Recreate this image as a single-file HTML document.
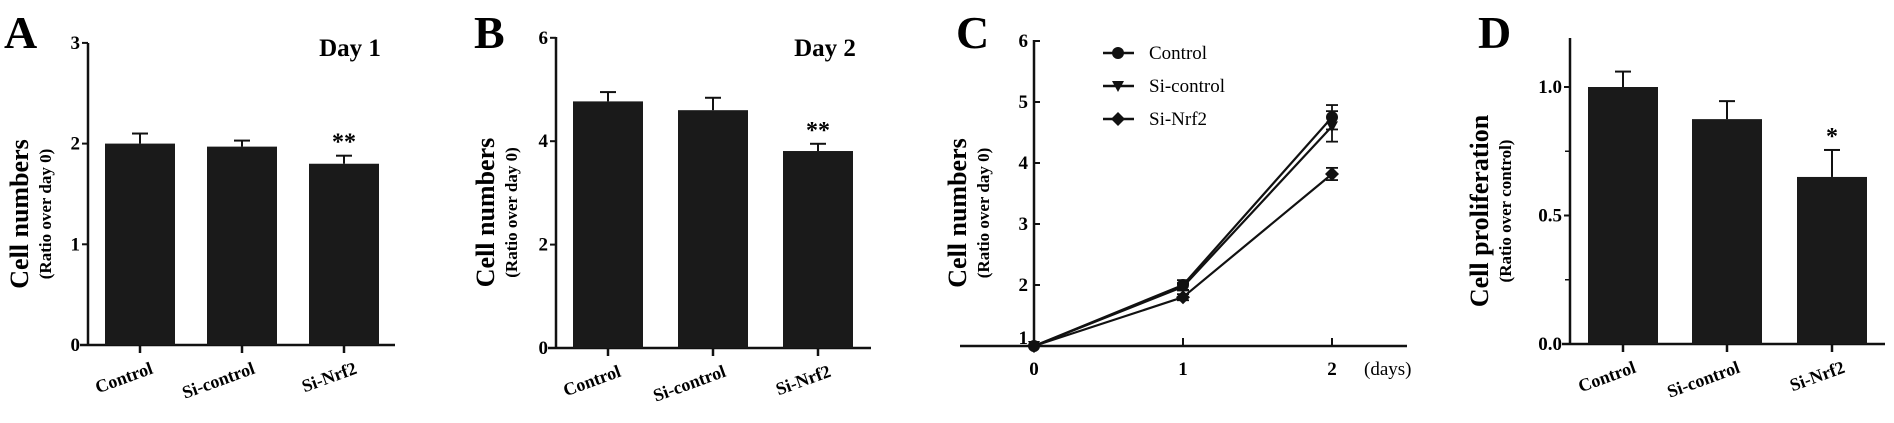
<!DOCTYPE html>
<html><head><meta charset="utf-8"><style>
html,body{margin:0;padding:0;background:#fff;}
svg{display:block;font-family:"Liberation Serif",serif;}
</style></head><body>
<svg id="fig" width="1894" height="423" viewBox="0 0 1894 423" xmlns="http://www.w3.org/2000/svg"></svg>
<script>
const cats = ["Control","Si-control","Si-Nrf2"];
const dayA = [2.0,1.97,1.8];
const errA = [0.1,0.06,0.08];
const dayB = [4.77,4.6,3.81];
const errB = [0.18,0.24,0.14];
const prolD = [1.0,0.875,0.65];
const errD = [0.06,0.07,0.105];
const days = [0,1,2];
const lineCtrl = [1,2.0,4.75];
const lineSiC = [1,1.97,4.6];
const lineNrf = [1,1.8,3.82];
const errCtrl = [0,0.08,0.2];
const errSiC = [0,0.06,0.25];
const errNrf = [0,0.05,0.1];

const NS="http://www.w3.org/2000/svg";
const svg=document.getElementById('fig');
function el(tag,attrs,parent,text){const e=document.createElementNS(NS,tag);for(const k in attrs)e.setAttribute(k,attrs[k]);if(text!==undefined)e.textContent=text;(parent||svg).appendChild(e);return e;}

function barPanel(o){
  const g=el('g',{});
  
  
  const y=v=>o.y0-(v-o.vmin)*o.scale;
  const t=el('text',{x:o.lx,y:48,'font-size':46,'font-weight':'bold'},g,o.letter);
  
  
  el('line',{x1:o.ax,y1:o.ytop,x2:o.ax,y2:o.y0+1,stroke:'#111','stroke-width':2.5},g);
  el('line',{x1:o.ax-8,y1:o.y0,x2:o.xend,y2:o.y0,stroke:'#111','stroke-width':2.5},g);
  o.ticks.forEach((tv,i)=>{
    const yy=y(tv);
    el('line',{x1:o.ax-6,y1:yy,x2:o.ax,y2:yy,stroke:'#111','stroke-width':2},g);
    const tl=el('text',{x:o.ax-8,y:yy+6,'font-size':19,'font-weight':'bold','text-anchor':'end'},g,o.tickLabels[i]);
    
    
  });
  (o.minor||[]).forEach(tv=>{const yy=y(tv);el('line',{x1:o.ax-5,y1:yy,x2:o.ax,y2:yy,stroke:'#111','stroke-width':1.5},g);});
  o.vals.forEach((v,i)=>{
    const cx=o.cx[i];
    const b=el('rect',{x:cx-35,y:y(v),width:70,height:o.y0-y(v),fill:'#1a1a1a'},g);
    
    
    const ye=y(v+o.errs[i]);
    el('line',{x1:cx,y1:y(v),x2:cx,y2:ye,stroke:'#111','stroke-width':2},g);
    el('line',{x1:cx-8,y1:ye,x2:cx+8,y2:ye,stroke:'#111','stroke-width':2},g);
    el('line',{x1:cx,y1:o.y0,x2:cx,y2:o.y0+8,stroke:'#111','stroke-width':2.5},g);
    const xl=el('text',{x:0,y:0,'font-size':18,'font-weight':'bold','text-anchor':'end',transform:`translate(${cx+14},${o.y0+28}) rotate(-20)`},g,cats[i]);
    
    
  });
  const st=el('text',{x:o.cx[2],y:y(o.vals[2]+o.errs[2])-6,'font-size':24,'font-weight':'bold','text-anchor':'middle'},g,o.star);
  
  
  if(o.title){const tt=el('text',{x:o.titleX,y:56,'font-size':25,'font-weight':'bold','text-anchor':'middle'},g,o.title);
    }
  const mid=(o.ytop+o.y0)/2+20;
  const y1=el('text',{x:0,y:0,'font-size':26,'font-weight':'bold','text-anchor':'middle',transform:`translate(${o.ylx},${mid}) rotate(-90)`},g,o.ylabel);
  
  const y2=el('text',{x:0,y:0,'font-size':17,'font-weight':'bold','text-anchor':'middle',transform:`translate(${o.ylx+23},${mid}) rotate(-90)`},g,o.ylabel2);
  
}

barPanel({name:'panel-a',letter:'A',lx:4,ax:88,y0:345,ytop:43,vmin:0,scale:100.7,xend:395,ticks:[0,1,2,3],tickLabels:['0','1','2','3'],
  cx:[140,242,344],vals:dayA,errs:errA,star:'**',title:'Day 1',titleX:350,ylabel:'Cell numbers',ylabel2:'(Ratio over day 0)',ylx:28});
barPanel({name:'panel-b',letter:'B',lx:474,ax:556,y0:348,ytop:37,vmin:0,scale:51.7,xend:871,ticks:[0,2,4,6],tickLabels:['0','2','4','6'],
  cx:[608,713,818],vals:dayB,errs:errB,star:'**',title:'Day 2',titleX:825,ylabel:'Cell numbers',ylabel2:'(Ratio over day 0)',ylx:494});
barPanel({name:'panel-d',letter:'D',lx:1478,ax:1570,y0:344,ytop:38,vmin:0,scale:257,xend:1885,ticks:[0,0.5,1.0],tickLabels:['0.0','0.5','1.0'],minor:[0.25,0.75],
  cx:[1623,1727,1832],vals:prolD,errs:errD,star:'*',ylabel:'Cell proliferation',ylabel2:'(Ratio over control)',ylx:1488});

(function(){
  const g=el('g',{});
  
  
  const ax=1034,y0=346,scale=61,xs=149;
  const y=v=>y0-(v-1)*scale, x=d=>ax+d*xs;
  const t=el('text',{x:956,y:48,'font-size':46,'font-weight':'bold'},g,'C');
  
  el('line',{x1:ax,y1:40,x2:ax,y2:y0,stroke:'#111','stroke-width':2.5},g);
  el('line',{x1:960,y1:y0,x2:1407,y2:y0,stroke:'#111','stroke-width':2.5},g);
  [1,2,3,4,5,6].forEach(v=>{
    el('line',{x1:ax,y1:y(v),x2:ax+6,y2:y(v),stroke:'#111','stroke-width':2},g);
    const tl=el('text',{x:ax-6,y:y(v)+(v===1?-2:6),'font-size':19,'font-weight':'bold','text-anchor':'end'},g,String(v));
    
  });
  days.forEach(d=>{
    el('line',{x1:x(d),y1:y0-8,x2:x(d),y2:y0,stroke:'#111','stroke-width':2},g);
    const tl=el('text',{x:x(d),y:y0+29,'font-size':19,'font-weight':'bold','text-anchor':'middle'},g,String(d));
    
  });
  const du=el('text',{x:1364,y:y0+29,'font-size':19},g,'(days)');
  
  function marker(type,cx,cy,p){
    if(type==='circle')return el('circle',{cx,cy,r:6,fill:'#111'},p);
    if(type==='tri')return el('polygon',{points:`${cx-6},${cy-5} ${cx+6},${cy-5} ${cx},${cy+6}`,fill:'#111'},p);
    return el('polygon',{points:`${cx},${cy-7} ${cx+7},${cy} ${cx},${cy+7} ${cx-7},${cy}`,fill:'#111'},p);
  }
  const series=[['Control',lineCtrl,errCtrl,'circle'],['Si-control',lineSiC,errSiC,'tri'],['Si-Nrf2',lineNrf,errNrf,'diamond']];
  series.forEach((s,si)=>{
    const sg=el('g',{},g);
    
    
    el('polyline',{points:days.map((d,i)=>x(d)+','+y(s[1][i])).join(' '),fill:'none',stroke:'#111','stroke-width':2.2},sg);
    days.forEach((d,i)=>{
      if(s[2][i]>0){
        const a=y(s[1][i]+s[2][i]),b=y(s[1][i]-s[2][i]);
        el('line',{x1:x(d),y1:a,x2:x(d),y2:b,stroke:'#111','stroke-width':1.8},sg);
        el('line',{x1:x(d)-6,y1:a,x2:x(d)+6,y2:a,stroke:'#111','stroke-width':1.8},sg);
        el('line',{x1:x(d)-6,y1:b,x2:x(d)+6,y2:b,stroke:'#111','stroke-width':1.8},sg);
      }
      const m=marker(s[3],x(d),y(s[1][i]),sg);
      
      
    });
    const ly=53+si*33;
    const lg=el('g',{},g);
    
    
    el('line',{x1:1103,y1:ly,x2:1134,y2:ly,stroke:'#111','stroke-width':2.5},lg);
    marker(s[3],1118,ly,lg);
    el('text',{x:1149,y:ly+6,'font-size':19},lg,s[0]);
  });
  const mid=(40+y0)/2+20;
  const y1=el('text',{x:0,y:0,'font-size':26,'font-weight':'bold','text-anchor':'middle',transform:`translate(${966},${mid}) rotate(-90)`},g,'Cell numbers');
  
  const y2=el('text',{x:0,y:0,'font-size':17,'font-weight':'bold','text-anchor':'middle',transform:`translate(${989},${mid}) rotate(-90)`},g,'(Ratio over day 0)');
  
})();
</script>
</body></html>
